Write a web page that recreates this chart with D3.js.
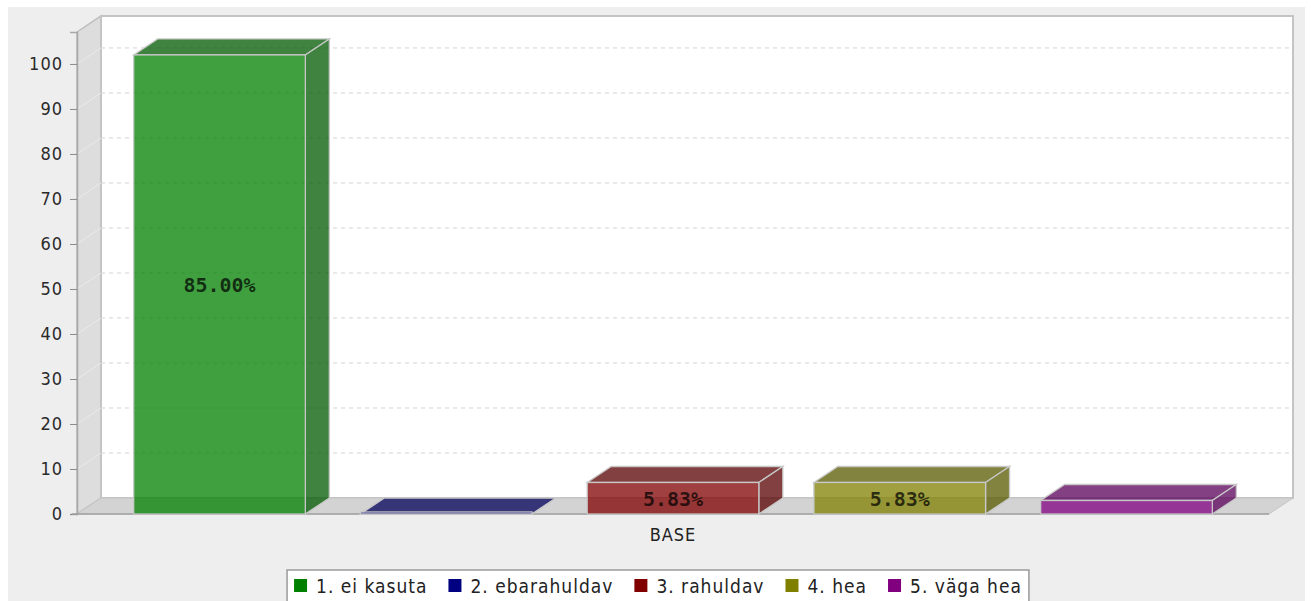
<!DOCTYPE html>
<html>
<head>
<meta charset="utf-8">
<style>
  body { margin: 0; background: #fff; }
  svg { display: block; }
</style>
</head>
<body>
<script src="https://d3js.org/d3.v7.min.js"></script>
<svg id="chart" width="1311" height="601"></svg>
<script>
// data
const categories = ["1. ei kasuta", "2. ebarahuldav", "3. rahuldav", "4. hea", "5. väga hea"];
const values = [102, 0, 7, 7, 3];
const valueLabels = ["85.00%", "0.00%", "5.83%", "5.83%", "2.50%"];
const colors = ["#008000", "#000080", "#800000", "#808000", "#800080"];
const yTicks = [0, 10, 20, 30, 40, 50, 60, 70, 80, 90, 100];
const domainLabel = "BASE";

const svg = d3.select("#chart");
const condensed = "'DejaVu Sans Condensed', 'DejaVu Sans', sans-serif";

// plot geometry (front plane) and 3d offset
const x0 = 77, x1 = 1269, yBottom = 514, yTop = 32;
const dx = 24, dy = -16;

const y = d3.scaleLinear().domain([0, 107.1]).range([yBottom, yTop]);
const x = d3.scaleBand().domain(categories).range([x0, x1])
    .paddingInner(0.243).paddingOuter(0.25);

// chart background
svg.append("rect").attr("x", 8).attr("y", 7).attr("width", 1297).attr("height", 594)
    .attr("fill", "#eeeeee");

const line = d3.line();

// left wall
svg.append("path")
    .attr("d", line([[x0, yTop], [x0 + dx, yTop + dy], [x0 + dx, yBottom + dy], [x0, yBottom]]) + "Z")
    .attr("fill", "#dddddd").attr("stroke", "#bdbdbd").attr("stroke-width", 1.5);

// back wall
svg.append("rect")
    .attr("x", x0 + dx).attr("y", yTop + dy)
    .attr("width", x1 - x0).attr("height", yBottom - yTop)
    .attr("fill", "#ffffff").attr("stroke", "#c4c4c4").attr("stroke-width", 2);

// floor
svg.append("path")
    .attr("d", line([[x0, yBottom], [x0 + dx, yBottom + dy], [x1 + dx, yBottom + dy], [x1, yBottom]]) + "Z")
    .attr("fill", "#d3d3d3").attr("stroke", "#c4c4c4").attr("stroke-width", 1);

// gridlines
const grid = svg.append("g");
grid.selectAll("line.g").data(yTicks.filter(d => d > 0)).join("line")
    .attr("x1", x0 + dx).attr("x2", x1 + dx)
    .attr("y1", d => y(d) + dy).attr("y2", d => y(d) + dy)
    .attr("stroke", "#d4d4d4").attr("stroke-width", 1)
    .attr("stroke-dasharray", "4,4");
grid.selectAll("line.w").data(yTicks.filter(d => d > 0)).join("line")
    .attr("x1", x0).attr("x2", x0 + dx)
    .attr("y1", d => y(d)).attr("y2", d => y(d) + dy)
    .attr("stroke", "#ebebeb").attr("stroke-width", 1);

// y axis
const yAxis = svg.append("g")
    .attr("transform", `translate(${x0},0)`)
    .call(d3.axisLeft(y).tickValues(yTicks).tickSize(7).tickPadding(7));
yAxis.select(".domain").attr("stroke", "#a8a8a8").attr("stroke-width", 1.5);
yAxis.selectAll(".tick line").attr("stroke", "#8a8a8a");
yAxis.selectAll(".tick text")
    .attr("font-family", condensed).attr("font-size", 18).attr("letter-spacing", 1)
    .attr("fill", "#2a2a2a");

// domain axis line
svg.append("line")
    .attr("x1", x0 - 5).attr("x2", x1).attr("y1", yBottom).attr("y2", yBottom)
    .attr("stroke", "#a0a0a0").attr("stroke-width", 1.5);

// bars
const bars = svg.append("g").selectAll("g").data(categories).join("g");
const bw = x.bandwidth();

bars.append("path") // top
    .attr("d", (d, i) => {
        const bx = x(d), by = y(values[i]);
        return line([[bx, by], [bx + dx, by + dy], [bx + bw + dx, by + dy], [bx + bw, by]]) + "Z";
    })
    .attr("fill", (d, i) => d3.color(colors[i]).darker(1))
    .attr("fill-opacity", 0.75)
    .attr("stroke", "#c8c8c8").attr("stroke-width", 1.3);

bars.append("path") // side
    .attr("d", (d, i) => {
        const bx = x(d) + bw, by = y(values[i]);
        return line([[bx, by], [bx + dx, by + dy], [bx + dx, yBottom + dy], [bx, yBottom]]) + "Z";
    })
    .attr("fill", (d, i) => d3.color(colors[i]).darker(1))
    .attr("fill-opacity", 0.75)
    .attr("stroke", "#c8c8c8").attr("stroke-width", 1.3);

bars.append("rect") // front
    .attr("x", d => x(d))
    .attr("y", (d, i) => y(values[i]) - (values[i] === 0 ? 2 : 0))
    .attr("width", bw)
    .attr("height", (d, i) => yBottom - y(values[i]) + (values[i] === 0 ? 2 : 0))
    .attr("fill", (d, i) => colors[i])
    .attr("fill-opacity", 0.75)
    .attr("stroke", "#c8c8c8").attr("stroke-width", 1.3);

bars.filter((d, i) => yBottom - y(values[i]) > 18)
    .append("text")
    .attr("x", d => x(d) + bw / 2)
    .attr("y", d => (y(values[categories.indexOf(d)]) + yBottom) / 2 + 1)
    .attr("text-anchor", "middle").attr("dominant-baseline", "central")
    .attr("font-family", "'DejaVu Sans Mono', monospace").attr("font-weight", "bold")
    .attr("font-size", 20).attr("fill", "#000").attr("fill-opacity", 0.72)
    .text(d => valueLabels[categories.indexOf(d)]);

// domain label
svg.append("text")
    .attr("x", (x0 + x1) / 2).attr("y", 541)
    .attr("text-anchor", "middle")
    .attr("font-family", condensed).attr("font-size", 18).attr("letter-spacing", 1)
    .attr("fill", "#222")
    .text(domainLabel);

// legend
const gap = 21;
const legend = svg.append("g");
const items = legend.selectAll("g").data(categories).join("g");
items.append("rect").attr("width", 13).attr("height", 13).attr("y", 579)
    .attr("fill", (d, i) => colors[i]);
items.append("text").attr("x", 22).attr("y", 593)
    .attr("font-family", condensed).attr("font-size", 19).attr("letter-spacing", 1)
    .attr("fill", "#222")
    .text(d => d);
let cx = 0;
items.each(function () {
    const g = d3.select(this);
    g.attr("transform", `translate(${cx},0)`);
    cx += 22 + g.select("text").node().getComputedTextLength() + gap;
});
const legendW = cx - gap + 14;
const lx = 665 - legendW / 2;
legend.insert("rect", ":first-child")
    .attr("x", -7).attr("y", 570).attr("width", legendW).attr("height", 40)
    .attr("fill", "#fff").attr("stroke", "#9a9a9a").attr("stroke-width", 1.5);
legend.attr("transform", `translate(${lx},0)`);
</script>
</body>
</html>
